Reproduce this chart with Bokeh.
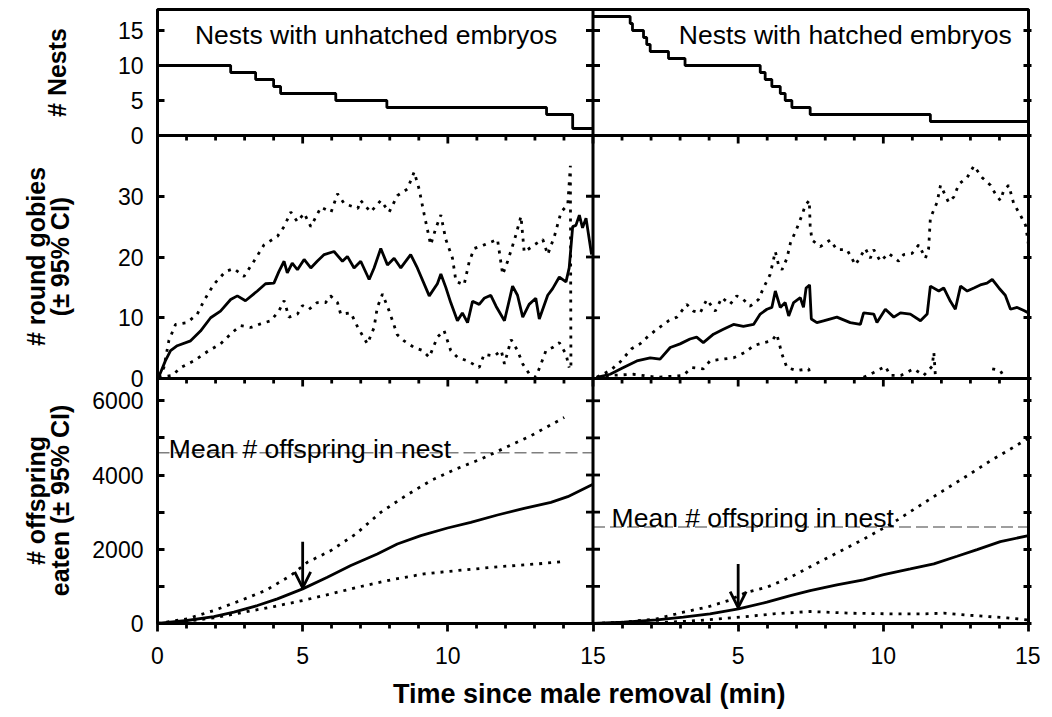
import math
import numpy as np
from bokeh.plotting import figure
from bokeh.layouts import row
from bokeh.models import LinearAxis, FixedTicker, Range1d, Span, Label, Arrow, OpenHead
from bokeh.embed import file_html
from bokeh.resources import INLINE

FONT = "Liberation Sans"
NAN = float("nan")

# ---------------- text ----------------
panel_titles = ["Nests with unhatched embryos", "Nests with hatched embryos"]
row_titles = [["# Nests"], ["# round gobies", "(\u00b1 95% CI)"], ["# offspring", "eaten (\u00b1 95% CI)"]]
x_title = "Time since male removal  (min)"
mean_label = "Mean # offspring in nest"

# ---------------- ticks ----------------
time_ticks = [0, 5, 10, 15]
time_minor = [1, 2, 3, 4, 6, 7, 8, 9, 11, 12, 13, 14]
nests_ticks = [0, 5, 10, 15]
gobies_ticks = [0, 10, 20, 30]
eaten_ticks = [0, 2000, 4000, 6000]
eaten_minor = [1000, 3000, 5000]

# ---------------- data: number of nests (steps) ----------------
nests_unh_t = [0, 2.52, 3.38, 4.0, 4.24, 6.14, 7.9, 13.4, 14.3, 15]
nests_unh_n = [10, 9, 8, 7, 6, 5, 4, 3, 1, 1]
nests_hat_t = [0, 1.28, 1.36, 1.74, 1.85, 1.97, 2.6, 3.17, 5.76, 5.93, 6.16, 6.45, 6.62, 6.85, 7.48, 11.62, 15]
nests_hat_n = [17, 16, 15, 14, 13, 12, 11, 10, 9, 8, 7, 6, 5, 4, 3, 2, 2]

# ---------------- data: round gobies, unhatched ----------------
gob_unh_mean_t = [0.04, 0.27, 0.45, 0.68, 1.14, 1.48, 1.83, 2.17, 2.52, 2.75, 3.03, 3.44, 3.72, 4.01, 4.18, 4.36,
                  4.47, 4.64, 4.82, 5.05, 5.28, 5.5, 5.74, 6.08, 6.37, 6.54, 6.77, 7.0, 7.29, 7.46, 7.69, 7.92,
                  8.15, 8.38, 8.72, 8.95, 9.36, 9.64, 9.76, 9.93, 10.1, 10.33, 10.5, 10.68, 10.85, 11.08, 11.25,
                  11.48, 11.66, 11.95, 12.23, 12.4, 12.58, 12.8, 13.03, 13.15, 13.44, 13.61, 13.84, 14.07, 14.18,
                  14.3, 14.41, 14.53, 14.64, 14.76, 14.95]
gob_unh_mean = [0.2, 2.9, 4.6, 5.4, 6.2, 7.8, 10.0, 11.1, 13.0, 13.6, 12.8, 14.4, 15.6, 15.7, 17.6, 19.3,
                17.4, 19.0, 17.9, 19.6, 18.2, 19.3, 20.4, 20.9, 19.3, 20.1, 18.2, 19.3, 16.3, 18.2, 21.4, 18.7,
                19.8, 18.2, 20.4, 18.2, 13.6, 15.6, 17.2, 15.0, 12.5, 9.5, 10.8, 9.2, 12.7, 12.2, 13.2,
                13.7, 11.9, 9.5, 15.2, 13.7, 10.1, 12.2, 13.2, 9.8, 13.7, 14.8, 16.7, 15.9, 18.2,
                25.0, 25.2, 26.9, 24.8, 26.4, 20.4]
gob_unh_up_t = [0.04, 0.22, 0.39, 0.62, 1.02, 1.37, 1.6, 1.94, 2.34, 2.63, 2.98, 3.32, 3.67, 4.13, 4.36, 4.59,
                4.82, 5.05, 5.28, 5.63, 5.98, 6.2, 6.43, 6.9, 7.0, 7.34, 7.69, 7.98, 8.26, 8.61, 8.84, 9.01,
                9.19, 9.41, 9.59, 9.76, 9.93, 10.16, 10.28, 10.56, 10.74, 10.91, 11.25, 11.71, 11.89, 12.06,
                12.3, 12.52, 12.63, 12.98, 13.27, 13.44, 13.67, 13.9, 14.13, 14.22, 14.24]
gob_unh_up = [0.2, 1.8, 6.2, 8.9, 9.2, 10.6, 12.8, 15.5, 17.6, 18.1, 16.8, 19.3, 22.0, 23.4, 25.0, 27.4,
              25.8, 27.2, 25.0, 28.2, 27.4, 30.4, 28.8, 28.0, 29.3, 27.4, 29.3, 27.4, 30.1, 31.2, 34.0, 31.2,
              26.9, 22.0, 24.8, 26.9, 22.9, 19.8, 16.0, 15.4, 19.3, 21.4, 22.0, 22.9, 17.1, 19.3,
              22.9, 26.7, 20.8, 22.0, 22.9, 20.4, 23.4, 27.4, 28.6, 35.0, 1.8]
gob_unh_lo_t = [0.04, 0.51, 0.8, 1.25, 1.77, 2.17, 2.58, 2.86, 3.21, 3.55, 3.9, 4.18, 4.36, 4.53, 4.82, 4.99,
                5.22, 5.5, 5.79, 5.96, 6.2, 6.31, 6.66, 6.9, 7.23, 7.46, 7.57, 7.75, 7.98, 8.26, 8.49, 8.84,
                9.13, 9.36, 9.64, 9.87, 10.1, 10.33, 10.68, 11.08, 11.25, 11.6, 11.84, 11.95, 12.18, 12.4,
                12.58, 12.8, 13.03, 13.21, 13.38, 13.61, 13.84, 14.07, 14.18]
gob_unh_lo = [0.2, 0.5, 1.8, 2.9, 4.6, 5.7, 7.6, 8.7, 8.4, 9.0, 9.5, 11.1, 12.8, 10.1, 10.6, 12.0,
              11.4, 12.5, 12.5, 13.6, 12.5, 10.6, 10.8, 8.4, 5.7, 8.4, 11.7, 13.9, 11.1, 7.2, 6.2, 5.1,
              4.6, 3.5, 6.8, 7.9, 4.6, 3.5, 2.9, 1.8, 4.0, 3.7, 4.6, 2.4, 6.4, 4.6,
              2.4, 0.8, 0.2, 2.4, 4.6, 5.1, 5.9, 4.0, 1.8]

# ---------------- data: round gobies, hatched ----------------
gob_hat_mean_t = [0.13, 0.59, 1.05, 1.51, 1.97, 2.31, 2.66, 3.0, 3.34, 3.57, 3.8, 4.15, 4.49, 4.84, 5.18, 5.53,
                  5.76, 5.99, 6.16, 6.28, 6.45, 6.62, 6.74, 6.91, 7.14, 7.25, 7.34, 7.46, 7.52, 7.71, 7.94,
                  8.4, 8.86, 9.21, 9.32, 9.67, 9.78, 10.07, 10.36, 10.59, 10.93, 11.28, 11.51, 11.62, 11.91,
                  12.08, 12.31, 12.48, 12.66, 12.89, 13.12, 13.34, 13.57, 13.75, 13.98, 14.2, 14.38, 14.61,
                  14.84, 15.0]
gob_hat_mean = [0.2, 0.7, 1.8, 2.9, 3.4, 3.2, 5.1, 5.7, 6.5, 6.8, 5.9, 7.3, 8.1, 8.9, 8.6, 8.9,
                10.6, 11.4, 11.7, 14.4, 11.7, 12.5, 10.3, 12.5, 13.3, 11.7, 14.9, 15.4, 9.8, 9.2, 9.5,
                10.1, 9.2, 8.9, 10.8, 10.6, 9.2, 11.4, 10.1, 10.8, 10.6, 9.5, 10.6, 15.2, 14.4,
                14.9, 12.7, 11.4, 15.2, 14.4, 14.9, 15.4, 15.7, 16.3, 14.9, 13.7, 11.4, 11.7,
                11.2, 10.8]
gob_hat_up_t = [0.13, 0.24, 0.59, 0.93, 1.33, 1.62, 1.91, 2.2, 2.6, 2.89, 3.23, 3.46, 3.69, 3.92, 4.21, 4.44,
                4.72, 4.95, 5.18, 5.41, 5.7, 5.87, 6.1, 6.28, 6.39, 6.51, 6.68, 6.8, 7.02, 7.2, 7.31, 7.45,
                7.48, 7.54, 7.83, 8.17, 8.4, 8.75, 9.04, 9.38, 9.55, 9.67, 9.9, 10.18, 10.53, 10.7, 10.99,
                11.22, 11.45, 11.56, 11.62, 11.85, 11.97, 12.25, 12.43, 12.6, 12.89, 13.12, 13.4, 13.69,
                13.86, 14.03, 14.15, 14.32, 14.49, 14.72, 14.9, 15.0]
gob_hat_up = [0.2, 0.5, 1.3, 2.7, 4.9, 5.7, 7.0, 8.1, 9.5, 10.1, 12.2, 11.1, 10.8, 13.0, 11.1, 13.3,
              12.2, 13.6, 13.0, 11.9, 13.0, 14.9, 17.1, 20.9, 18.7, 17.9, 19.8, 22.3, 24.7, 26.9, 28.5, 29.3,
              25.2, 22.8, 21.7, 22.8, 21.2, 21.2, 18.7, 21.4, 19.8, 21.2, 19.3, 20.6, 19.3, 20.4, 20.6,
              22.0, 19.8, 21.4, 26.4, 29.0, 31.8, 29.0, 29.9, 32.0, 33.1, 35.0, 33.1, 31.8,
              30.4, 29.3, 31.0, 31.8, 28.8, 26.9, 25.2, 22.0]
# lower limit: NaN where the interval runs below zero (not drawn)
gob_hat_lo_t = [0.13, 0.59, 1.39, 2.2, 3.11, 3.4, 3.8, 4.03, 4.49, 4.84, 5.24, 5.53, 5.87, 6.16, 6.33, 6.51,
                6.68, 7.02, 7.43, 7.48, 7.6, 9.2, 9.32, 9.67, 10.07, 10.24, 10.6, 11.05, 11.39, 11.68,
                11.74, 11.79, 11.9, 13.6, 13.75, 14.03, 14.15]
gob_hat_lo = [0.2, 0.5, 0.7, 0.2, 0.5, 1.8, 1.6, 2.9, 3.2, 3.4, 4.3, 5.4, 5.9, 6.2, 7.3, 4.0,
              1.8, 1.3, 1.6, 0.5, NAN, NAN, 0.2, 1.0, 2.0, 0.5, 0.5, 1.6, 0.5, 2.0,
              4.3, 0.7, NAN, NAN, 1.6, 1.3, 0.3]

# ---------------- data: offspring eaten, unhatched ----------------
eat_unh_t = [0, 1.02, 1.94, 2.63, 3.44, 4.13, 5.0, 5.85, 6.66, 7.57, 8.26, 9.07, 9.99, 10.79, 11.71, 12.63,
             13.55, 14.13, 15.0]
eat_unh_mean = [0, 81, 188, 304, 484, 664, 933, 1246, 1560, 1874, 2143, 2367, 2573, 2726, 2923, 3102,
                3264, 3416, 3750]
eat_unh_up_t = [0, 1.02, 1.94, 2.86, 3.72, 4.59, 5.16, 5.97, 6.83, 7.69, 8.55, 9.41, 10.28, 11.14, 12.0,
                12.86, 14.01]
eat_unh_up = [0, 126, 350, 619, 888, 1291, 1649, 1964, 2412, 2995, 3443, 3847, 4161, 4430, 4744, 5057, 5550]
eat_unh_lo_t = [0, 1.02, 1.94, 2.98, 4.01, 5.0, 5.97, 6.89, 8.03, 9.18, 10.56, 11.82, 13.08, 14.01]
eat_unh_lo = [0, 63, 152, 304, 457, 619, 798, 977, 1174, 1336, 1444, 1533, 1605, 1668]

# ---------------- data: offspring eaten, hatched ----------------
eat_hat_t = [0, 1.05, 2.2, 3.11, 4.03, 5.01, 5.99, 6.8, 7.48, 8.4, 9.32, 10.01, 10.93, 11.74, 12.54, 13.23,
             14.03, 15.0]
eat_hat_mean = [0, 36, 99, 170, 260, 395, 574, 753, 888, 1040, 1175, 1318, 1470, 1605, 1811, 1991, 2206, 2367]
eat_hat_up_t = [0, 1.05, 2.2, 3.11, 3.92, 4.67, 5.3, 5.99, 6.8, 7.71, 8.63, 9.44, 10.36, 11.16, 11.97, 12.89,
                13.69, 14.38, 14.95]
eat_hat_up = [0, 36, 126, 304, 439, 619, 843, 977, 1246, 1623, 1991, 2322, 2726, 3129, 3533, 3981, 4385,
              4699, 4968]
eat_hat_lo_t = [0, 1.62, 3.34, 5.07, 6.22, 7.48, 8.86, 10.24, 11.39, 12.08, 13.1, 14.26, 14.95]
eat_hat_lo = [0, 0, 63, 170, 260, 323, 278, 260, 260, 278, 215, 152, 99]

mean_offspring = [4600, 2600]
arrow_time = 5
arrow_from = [2200, 1600]
arrow_to = [960, 430]

# ---------------- layout (pixels) ----------------
T_MAX = 15
FRAME_L, FRAME_T, FRAME_W, FRAME_H = 157, 9, 871, 614
TITLE_W = 86                       # strip on the left holding the vertical row titles
BORDER_B = 93
FIG_H = FRAME_T + FRAME_H + BORDER_B
PX_PER_MIN = FRAME_W / (2 * T_MAX)
# rows: (bottom offset in px inside the frame, height in px, value at top)
ROWS = {"nests": (488, 126, 18), "gobies": (245, 243, 40), "eaten": (0, 245, 6600)}
LW = 2.8
DOT = "3 6"
TEXT_SIZE = "26.5px"


def row_range(name):
    b, h, m = ROWS[name]
    per_px = m / h
    return Range1d(-b * per_px, (FRAME_H - b) * per_px)


def to_px(name, v):
    b, h, m = ROWS[name]
    return b + v * h / m


p = figure(frame_width=FRAME_W, frame_height=FRAME_H,
           x_range=Range1d(0, 2 * T_MAX), y_range=Range1d(0, FRAME_H),
           output_backend="svg", toolbar_location=None,
           x_axis_location=None, y_axis_location=None,
           min_border_left=FRAME_L - TITLE_W, min_border_top=FRAME_T, min_border_right=12,
           min_border_bottom=BORDER_B,
           background_fill_color="white", border_fill_color="white",
           outline_line_color="black", outline_line_width=3)
p.grid.visible = False
p.extra_x_ranges = {"hatched": Range1d(-T_MAX, T_MAX)}
p.extra_y_ranges = {k: row_range(k) for k in ROWS}

# ---------------- y axes (one axis, three panels) ----------------
y_major, y_labels = [], {}
for name, ticks in [("nests", nests_ticks), ("gobies", gobies_ticks), ("eaten", eaten_ticks)]:
    for v in ticks:
        pos = to_px(name, v)
        y_major.append(pos)
        y_labels[pos] = str(v)
y_minor = [to_px("eaten", v) for v in eaten_minor]

left = LinearAxis(ticker=FixedTicker(ticks=y_major, minor_ticks=y_minor))
left.major_label_overrides = y_labels
right = LinearAxis(ticker=FixedTicker(ticks=[], minor_ticks=y_major + y_minor))
for ax in (left, right):
    ax.axis_line_width = 3
    ax.axis_line_color = "black"
    ax.major_tick_line_width = LW
    ax.minor_tick_line_width = LW
left.major_tick_in, left.major_tick_out = 7, 0
left.minor_tick_in, left.minor_tick_out = 7, 0
left.major_label_standoff = 14
left.major_label_text_font = FONT
left.major_label_text_font_size = "23px"
left.major_label_text_color = "black"
right.minor_tick_in, right.minor_tick_out = 5, 3
p.add_layout(left, "left")
p.add_layout(right, "right")

# ---------------- x axis ----------------
x_major = time_ticks + [t + T_MAX for t in time_ticks[1:]]
x_minor = time_minor + [t + T_MAX for t in time_minor]
bottom = LinearAxis(ticker=FixedTicker(ticks=x_major, minor_ticks=x_minor))
bottom.major_label_overrides = {t + T_MAX: str(t) for t in time_ticks[1:]}
bottom.axis_line_width = 3
bottom.major_tick_line_width = LW
bottom.minor_tick_line_width = LW
bottom.major_tick_in, bottom.major_tick_out = 0, 8
bottom.minor_tick_in, bottom.minor_tick_out = 0, 5
bottom.major_label_standoff = 15
bottom.major_label_text_font = FONT
bottom.major_label_text_font_size = "23px"
bottom.major_label_text_color = "black"
bottom.axis_label = x_title
bottom.axis_label_text_font = FONT
bottom.axis_label_text_font_size = "27px"
bottom.axis_label_text_font_style = "bold"
bottom.axis_label_text_color = "black"
bottom.axis_label_standoff = 12
p.add_layout(bottom, "below")

# ---------------- panel borders and their ticks ----------------
p.add_layout(Span(location=T_MAX, dimension="height", line_color="black", line_width=3))
for name in ("nests", "gobies"):
    b = ROWS[name][0]
    p.add_layout(Span(location=b, dimension="width", line_color="black", line_width=3))
    p.segment(x0=x_major, y0=[b] * len(x_major), x1=x_major, y1=[b - 8] * len(x_major),
              line_color="black", line_width=LW)
    p.segment(x0=x_minor, y0=[b] * len(x_minor), x1=x_minor, y1=[b - 5] * len(x_minor),
              line_color="black", line_width=LW)
p.scatter(x=[T_MAX] * len(y_major + y_minor), y=y_major + y_minor, marker="dash", size=14,
          line_width=LW, line_color="black")

# ---------------- row 1: number of nests ----------------
p.step(nests_unh_t, nests_unh_n, mode="after", line_color="black", line_width=LW, y_range_name="nests")
p.step(nests_hat_t, nests_hat_n, mode="after", line_color="black", line_width=LW,
       x_range_name="hatched", y_range_name="nests")
p.add_layout(Label(x=7.53, y=14.3, text=panel_titles[0], text_font=FONT, text_font_size=TEXT_SIZE,
                   text_align="center", text_baseline="alphabetic", text_color="black", y_range_name="nests"))
p.add_layout(Label(x=14.42, y=14.3, text=panel_titles[1], text_font=FONT, text_font_size=TEXT_SIZE,
                   text_align="right", text_baseline="alphabetic", text_color="black",
                   x_range_name="hatched", y_range_name="nests"))

# ---------------- row 2: round gobies ----------------
for rng, tm, mm, tu, uu, tl, ll in [
        ("default", gob_unh_mean_t, gob_unh_mean, gob_unh_up_t, gob_unh_up, gob_unh_lo_t, gob_unh_lo),
        ("hatched", gob_hat_mean_t, gob_hat_mean, gob_hat_up_t, gob_hat_up, gob_hat_lo_t, gob_hat_lo)]:
    p.line(tm, mm, line_color="black", line_width=LW, x_range_name=rng, y_range_name="gobies")
    p.line(tu, uu, line_color="black", line_width=LW, line_dash=DOT, x_range_name=rng, y_range_name="gobies")
    p.line(tl, ll, line_color="black", line_width=LW, line_dash=DOT, x_range_name=rng, y_range_name="gobies")

# ---------------- row 3: offspring eaten ----------------
label_x = [0.39, 0.64]
label_lift = [4, 9]
for k, (rng, tm, mm, tu, uu, tl, ll) in enumerate([
        ("default", eat_unh_t, eat_unh_mean, eat_unh_up_t, eat_unh_up, eat_unh_lo_t, eat_unh_lo),
        ("hatched", eat_hat_t, eat_hat_mean, eat_hat_up_t, eat_hat_up, eat_hat_lo_t, eat_hat_lo)]):
    p.line([0, T_MAX], [mean_offspring[k]] * 2, line_color="#7f7f7f", line_width=1.6,
           line_dash="12 5", x_range_name=rng, y_range_name="eaten")
    p.line(tm, mm, line_color="black", line_width=LW, x_range_name=rng, y_range_name="eaten")
    p.line(tu, uu, line_color="black", line_width=LW, line_dash=DOT, x_range_name=rng, y_range_name="eaten")
    p.line(tl, ll, line_color="black", line_width=LW, line_dash=DOT, x_range_name=rng, y_range_name="eaten")
    p.add_layout(Arrow(x_start=arrow_time, y_start=arrow_from[k], x_end=arrow_time, y_end=arrow_to[k],
                       line_width=LW, line_color="black",
                       end=OpenHead(size=16, line_width=LW, line_color="black"),
                       x_range_name=rng, y_range_name="eaten"))
    p.add_layout(Label(x=label_x[k], y=mean_offspring[k], y_offset=label_lift[k], text=mean_label,
                       text_font=FONT, text_font_size=TEXT_SIZE, text_baseline="alphabetic",
                       text_color="black", x_range_name=rng, y_range_name="eaten"))

# ---------------- row titles (separate strip, page pixel coordinates) ----------------
tf = figure(width=TITLE_W, height=FIG_H,
            x_range=Range1d(0, TITLE_W), y_range=Range1d(FRAME_T + FRAME_H, FRAME_T),
            output_backend="svg", toolbar_location=None, x_axis_location=None, y_axis_location=None,
            min_border_left=0, min_border_right=0, min_border_top=FRAME_T, min_border_bottom=BORDER_B,
            outline_line_color=None, background_fill_color="white", border_fill_color="white")
tf.grid.visible = False
title_pos = [[(56, 72)], [(35, 256), (59, 256)], [(35, 500), (59, 500)]]
for lines, places in zip(row_titles, title_pos):
    for txt, (tx, ty) in zip(lines, places):
        tf.add_layout(Label(x=tx, y=ty, text=txt, angle=math.pi / 2, text_font=FONT,
                            text_font_size="25px", text_font_style="bold", text_align="center",
                            text_baseline="middle", text_color="black"))

layout = row(tf, p, spacing=0)
open("out.html", "w").write(file_html(layout, INLINE))
